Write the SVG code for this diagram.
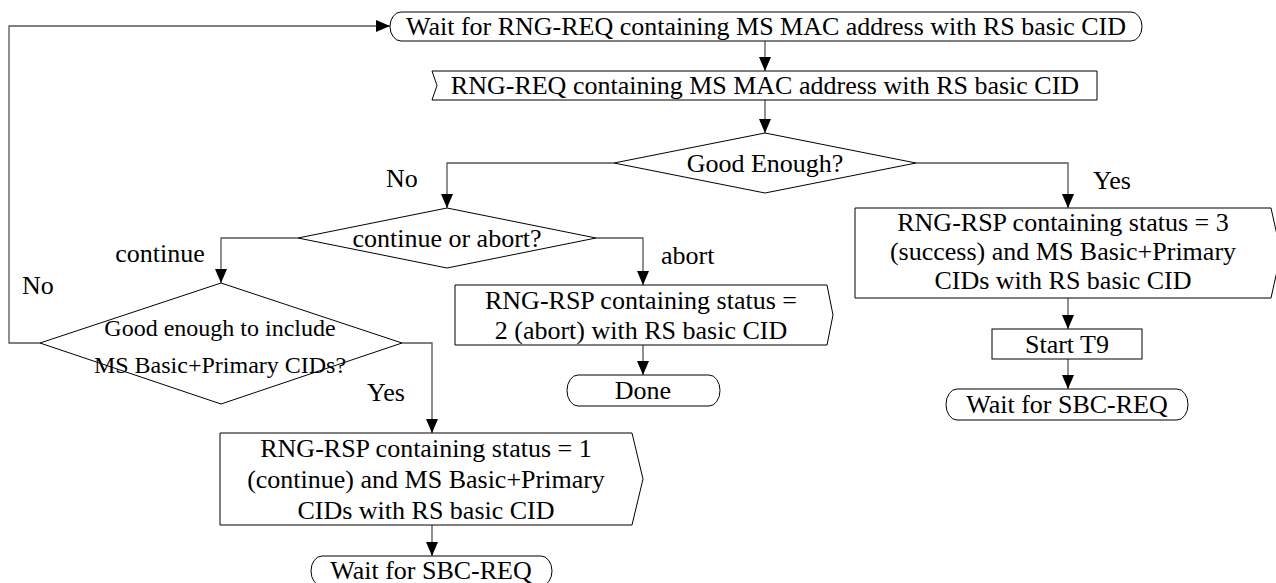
<svg xmlns="http://www.w3.org/2000/svg" width="1276" height="583" viewBox="0 0 1276 583">
<style>
.s{fill:#fff;stroke:#000;stroke-width:1}
.c{fill:none;stroke:#555;stroke-width:1.3}
text{font-family:"Liberation Serif","Times New Roman",serif;font-size:26px;fill:#000}
.m{text-anchor:middle}
.d{font-size:24px}
</style>
<defs>
<marker id="ah" markerUnits="userSpaceOnUse" markerWidth="14" markerHeight="12" refX="14" refY="6" orient="auto">
<path d="M0,0 L14,6 L0,12 z" fill="#000"/>
</marker>
</defs>
<rect width="1276" height="583" fill="#fff"/>
<g id="connectors">
<polyline class="c" points="40,343 9,343 9,26 390,26" marker-end="url(#ah)"/>
<line class="c" x1="765" y1="41" x2="765" y2="71" marker-end="url(#ah)"/>
<line class="c" x1="765" y1="100" x2="765" y2="133" marker-end="url(#ah)"/>
<polyline class="c" points="614,163 447,163 447,208" marker-end="url(#ah)"/>
<polyline class="c" points="916,163 1068,163 1068,208" marker-end="url(#ah)"/>
<polyline class="c" points="298,238 221,238 221,283" marker-end="url(#ah)"/>
<polyline class="c" points="596,238 643,238 643,285" marker-end="url(#ah)"/>
<polyline class="c" points="402,343 432,343 432,433" marker-end="url(#ah)"/>
<line class="c" x1="643" y1="345" x2="643" y2="375" marker-end="url(#ah)"/>
<line class="c" x1="1068" y1="298" x2="1068" y2="329" marker-end="url(#ah)"/>
<line class="c" x1="1068" y1="359" x2="1068" y2="389" marker-end="url(#ah)"/>
<line class="c" x1="432" y1="525" x2="432" y2="556" marker-end="url(#ah)"/>
<text x="386" y="187">No</text>
<text x="1093" y="189">Yes</text>
<text x="160" y="262" class="m">continue</text>
<text x="661" y="264">abort</text>
<text x="22" y="294">No</text>
<text x="367" y="401">Yes</text>
</g>
<g id="wait_rng_req">
<rect class="s" x="390" y="12" width="752" height="29" rx="11" ry="14.5"/>
<text x="766" y="35" class="m">Wait for RNG-REQ containing MS MAC address with RS basic CID</text>
</g>
<g id="rng_req_in">
<polygon class="s" points="432,71 1097,71 1097,100 432,100 437,85.5"/>
<text x="765" y="94" class="m">RNG-REQ containing MS MAC address with RS basic CID</text>
</g>
<g id="good_enough">
<polygon class="s" points="765,133 916,163 765,193 614,163"/>
<text x="765" y="172" class="m">Good Enough?</text>
</g>
<g id="continue_or_abort">
<polygon class="s" points="447,208 596,238 447,268 298,238"/>
<text x="447" y="247" class="m">continue or abort?</text>
</g>
<g id="good_enough_cids">
<polygon class="s" points="221,283 402,343 221,404 40,343"/>
<text x="220" y="336" class="m d">Good enough to include</text>
<text x="220" y="373" class="m d">MS Basic+Primary CIDs?</text>
</g>
<g id="rsp_abort">
<polygon class="s" points="455,285 827,285 833,315 827,345 455,345"/>
<text x="641" y="309" class="m">RNG-RSP containing status =</text>
<text x="641" y="339" class="m">2 (abort) with RS basic CID</text>
</g>
<g id="done">
<rect class="s" x="567" y="375" width="153" height="31" rx="11" ry="15.5"/>
<text x="643" y="399" class="m">Done</text>
</g>
<g id="rsp_success">
<polygon class="s" points="855,208 1271,208 1281,253 1271,298 855,298"/>
<text x="1063" y="231" class="m">RNG-RSP containing status = 3</text>
<text x="1063" y="260" class="m">(success) and MS Basic+Primary</text>
<text x="1063" y="289" class="m">CIDs with RS basic CID</text>
</g>
<g id="start_t9">
<rect class="s" x="992" y="329" width="150" height="30"/>
<text x="1067" y="353" class="m">Start T9</text>
</g>
<g id="wait_sbc_right">
<rect class="s" x="946" y="389" width="242" height="31" rx="11" ry="15.5"/>
<text x="1067" y="413" class="m">Wait for SBC-REQ</text>
</g>
<g id="rsp_continue">
<polygon class="s" points="220,433 632,433 643,479 632,525 220,525"/>
<text x="426" y="457" class="m">RNG-RSP containing status = 1</text>
<text x="426" y="488" class="m">(continue) and MS Basic+Primary</text>
<text x="426" y="519" class="m">CIDs with RS basic CID</text>
</g>
<g id="wait_sbc_bottom">
<rect class="s" x="311" y="556" width="241" height="30" rx="11" ry="15"/>
<text x="431" y="579" class="m">Wait for SBC-REQ</text>
</g>
</svg>
